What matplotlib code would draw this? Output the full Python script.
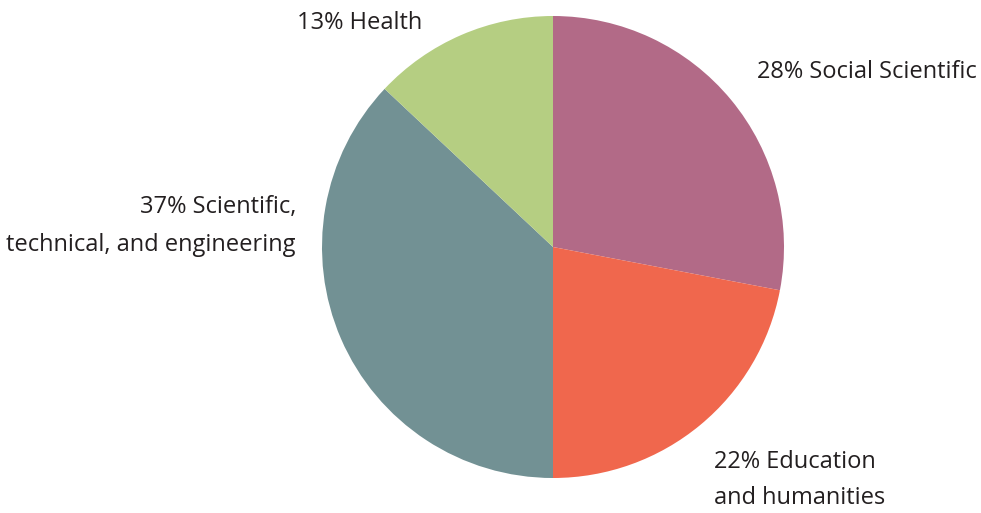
import matplotlib.pyplot as plt

labels = ["28% Social Scientific", "22% Education\nand humanities",
          "37% Scientific,\ntechnical, and engineering", "13% Health"]
shares = [28, 22, 37, 13]
colors = ["#B26A87", "#F0674D", "#729194", "#B5CE82"]

W, H = 981, 513
fig = plt.figure(figsize=(W / 100, H / 100), dpi=100)
ax = fig.add_axes([0, 0, 1, 1])

ax.pie(shares, colors=colors, startangle=90, counterclock=False,
       center=(553, H - 247), radius=231, frame=True)
ax.set_xlim(0, W)
ax.set_ylim(0, H)
ax.set_aspect("equal")
ax.axis("off")

font = dict(family="Open Sans", fontsize=17, color="#231F20")
ax.text(757, H - 72, labels[0], ha="left", va="center", **font)
ax.text(714, H - 480, labels[1], ha="left", va="center", linespacing=1.65, **font)
ax.text(296, H - 226, labels[2], ha="right", va="center", multialignment="right",
        linespacing=1.8, **font)
ax.text(297, H - 23, labels[3], ha="left", va="center", **font)

fig.savefig("out.png", dpi=100)
